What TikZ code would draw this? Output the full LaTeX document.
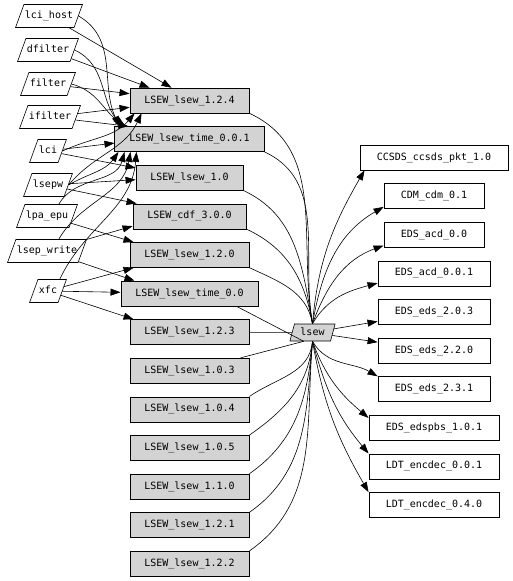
\documentclass[tikz,border=0pt]{standalone}
\usepackage{fontspec}
\setmonofont{DejaVu Sans Mono}
\usepackage{xcolor}
\usetikzlibrary{shapes.geometric,arrows.meta,positioning}
\definecolor{boxgray}{RGB}{211,211,211}

\begin{document}
\begin{tikzpicture}[
    x=1pt, y=-1pt,
    line width=0.6pt,
    font=\ttfamily\fontsize{10}{12}\selectfont,
    pkg/.style={trapezium, trapezium left angle=70, trapezium right angle=110, draw, inner xsep=1pt, inner ysep=6.5pt, text height=7.5pt, text depth=2.5pt},
    version/.style={rectangle, draw, fill=boxgray, inner xsep=14.5pt, inner ysep=0pt, minimum height=25pt},
    dep/.style={rectangle, draw, inner xsep=17pt, inner ysep=0pt, minimum height=25pt},
    arrow/.style={-{Triangle[length=10pt,width=7pt]}}
]
\useasboundingbox (0,0) rectangle (512,581);

% Packages
\node[pkg] (lcihost) at (49,16) {lci\_host};
\node[pkg] (dfilter) at (48,50) {dfilter};
\node[pkg] (filter) at (48,84) {filter};
\node[pkg] (ifilter) at (50,117) {ifilter};
\node[pkg] (lci) at (48,151) {lci};
\node[pkg] (lsepw) at (48,185) {lsepw};
\node[pkg] (lpaepu) at (47,216) {lpa\_epu};
\node[pkg] (lsepwrite) at (47,251) {lsep\_write};
\node[pkg] (xfc) at (48,291) {xfc};

% Versions
\node[version] (v124) at (189.5,100.5) {LSEW\_lsew\_1.2.4};
\node[version, below=13pt of v124] (t001) {LSEW\_lsew\_time\_0.0.1};
\node[version, below=13pt of t001] (v10) {LSEW\_lsew\_1.0};
\node[version, below=13pt of v10] (cdf) {LSEW\_cdf\_3.0.0};
\node[version, below=13pt of cdf] (v120) {LSEW\_lsew\_1.2.0};
\node[version, below=13pt of v120] (t00) {LSEW\_lsew\_time\_0.0};
\node[version, below=13pt of t00] (v123) {LSEW\_lsew\_1.2.3};
\node[version, below=13pt of v123] (v103) {LSEW\_lsew\_1.0.3};
\node[version, below=13pt of v103] (v104) {LSEW\_lsew\_1.0.4};
\node[version, below=13pt of v104] (v105) {LSEW\_lsew\_1.0.5};
\node[version, below=13pt of v105] (v110) {LSEW\_lsew\_1.1.0};
\node[version, below=13pt of v110] (v121) {LSEW\_lsew\_1.2.1};
\node[version, below=13pt of v121] (v122) {LSEW\_lsew\_1.2.2};

% Center
\node[pkg, fill=boxgray, trapezium left angle=75, trapezium right angle=105, inner ysep=3.5pt, inner xsep=6pt] (lsew) at (312.5,332.5) {lsew};

% Dependencies
\node[dep] (ccsds) at (434,157.5) {CCSDS\_ccsds\_pkt\_1.0};
\node[dep, below=13pt of ccsds] (cdm) {CDM\_cdm\_0.1};
\node[dep, below=13pt of cdm] (acd00) {EDS\_acd\_0.0};
\node[dep, below=13pt of acd00] (acd001) {EDS\_acd\_0.0.1};
\node[dep, below=13pt of acd001] (eds203) {EDS\_eds\_2.0.3};
\node[dep, below=13pt of eds203] (eds220) {EDS\_eds\_2.2.0};
\node[dep, below=13pt of eds220] (eds231) {EDS\_eds\_2.3.1};
\node[dep, below=13pt of eds231] (edspbs) {EDS\_edspbs\_1.0.1};
\node[dep, below=13pt of edspbs] (ldt001) {LDT\_encdec\_0.0.1};
\node[dep, below=13pt of ldt001] (ldt040) {LDT\_encdec\_0.4.0};

% Arrows into versions
\draw[arrow] (lcihost) -- ([xshift=42pt]v124.north west);
\draw[arrow] (lcihost.east) to[out=-30,in=115] ([xshift=5pt]t001.north west);
\draw[arrow] (dfilter) -- ([xshift=20pt]v124.north west);
\draw[arrow] (dfilter.east) to[out=-25,in=130] ([xshift=8pt]t001.north west);
\draw[arrow] (filter) -- ([yshift=-6pt]v124.north west);
\draw[arrow] (filter.east) to[out=-15,in=145] ([xshift=11pt]t001.north west);
\draw[arrow] (ifilter) -- ([yshift=6pt]v124.south west);
\draw[arrow] (ifilter) -- ([xshift=14pt]t001.north west);
\draw[arrow] (lci.east) to[out=25,in=-130] ([xshift=5pt]v124.south west);
\draw[arrow] (lci) -- ([yshift=-4pt]t001.west);
\draw[arrow] (lci) -- ([yshift=-3pt]v10.north west);
\draw[arrow] (lsepw.east) to[out=50,in=-115] ([xshift=12pt]v124.south west);
\draw[arrow] (lsepw.east) to[out=30,in=-125] ([xshift=4pt]t001.south west);
\draw[arrow] (lsepw) -- ([yshift=-2pt]v10.west);
\draw[arrow] (lsepw) -- ([xshift=4pt]cdf.north west);
\draw[arrow] (lpaepu.north east) to[out=60,in=-105] ([xshift=10pt]t001.south west);
\draw[arrow] (lpaepu) -- ([xshift=4pt]v120.north west);
\draw[arrow] (lsepwrite.north east) to[out=60,in=-100] ([xshift=16pt]t001.south west);
\draw[arrow] (lsepwrite) -- ([yshift=3pt]cdf.south west);
\draw[arrow] (lsepwrite) -- ([xshift=14pt]t00.north west);
\draw[arrow] (xfc.north east) to[out=65,in=-95] ([xshift=22pt]t001.south west);
\draw[arrow] (xfc) -- ([xshift=4pt]v120.south west);
\draw[arrow] (xfc) -- (t00);
\draw[arrow] (xfc) -- ([xshift=4pt]v123.north west);

% Versions to lsew
\foreach \v in {v124,t001,v10,cdf,v120}
    \draw (\v.south east) to[out=-25,in=100] (lsew.north);
\draw ([xshift=-22pt]t00.south east) -- (lsew.south west);
\draw (v123) -- (lsew);
\draw ([xshift=-9pt]v103.north east) -- (lsew.south west);
\foreach \v in {v104,v105,v110,v121,v122}
    \draw (\v.north east) to[out=35,in=-95] (lsew.south);

% Arrows out of lsew
\draw[arrow] (lsew.north) to[out=85,in=-120] ([xshift=5pt]ccsds.south west);
\draw[arrow] (lsew.north) to[out=80,in=-150] ([yshift=2pt]cdm.south west);
\draw[arrow] (lsew.north) to[out=70,in=-160] ([yshift=2pt]acd00.south west);
\draw[arrow] (lsew.north) to[out=60,in=-165] ([yshift=3pt]acd001.south west);
\draw[arrow] (lsew) -- (eds203);
\draw[arrow] (lsew) -- (eds220);
\draw[arrow] (lsew.south) to[out=-60,in=150] (eds231.north west);
\draw[arrow] (lsew.south) to[out=-70,in=140] ([yshift=-3pt]edspbs.north west);
\draw[arrow] (lsew.south) to[out=-75,in=130] (ldt001.north west);
\draw[arrow] (lsew.south) to[out=-80,in=120] (ldt040.north west);

\end{tikzpicture}
\end{document}
